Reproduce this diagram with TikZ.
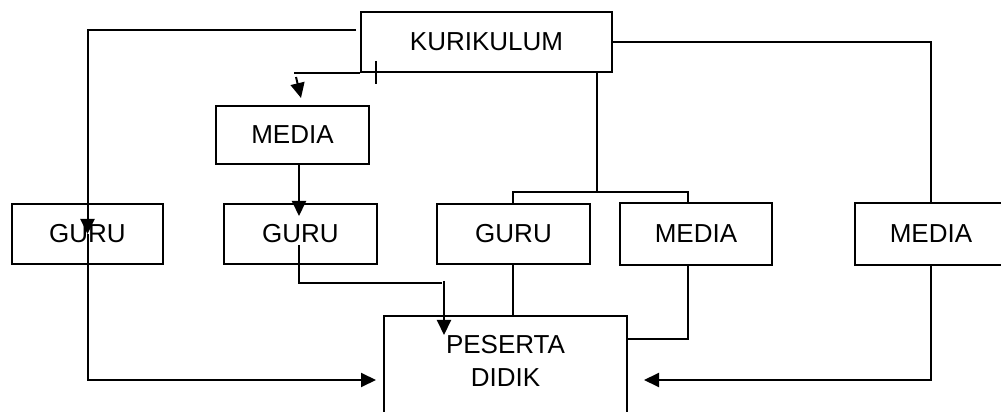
\documentclass[tikz,border=0pt]{standalone}
\usepackage{fontspec}
\setmainfont{Liberation Sans}
\usetikzlibrary{arrows.meta}

\begin{document}
\begin{tikzpicture}
  [x=1pt,y=1pt,line width=2pt,
   box/.style={draw,rectangle,minimum width=153pt,minimum height=60pt,inner sep=0pt,font=\fontsize{26}{33}\selectfont},
   arr/.style={-{Triangle[length=15pt,width=14pt]}}]
  \useasboundingbox (0,0) rectangle (1001,412);
  \clip (0,0) rectangle (1001,412);
  \node[box,minimum width=251pt] (kur) at (486.5,370) {KURIKULUM};
  \node[box,minimum height=58pt] (media1) at (292.5,277) {MEDIA};
  \node[box,minimum width=151pt] (guru1) at (87.5,178) {GURU};
  \node[box] (guru2) at (300.5,178) {GURU};
  \node[box] (guru3) at (513.5,178) {GURU};
  \node[box,minimum width=152pt,minimum height=62pt] (media2) at (696,178) {MEDIA};
  \node[box,minimum width=152pt,minimum height=62pt] (media3) at (931,178) {MEDIA};
  \node[box,minimum width=243pt,minimum height=128pt] (peserta) at (505.5,32) {};
  \node[font=\fontsize{26}{33}\selectfont,align=center,anchor=north,inner sep=0pt] (pesertatxt)
    at ([yshift=-19pt]peserta.north) {PESERTA\\DIDIK};

  % free ends of the connectors
  \coordinate (kl) at ([xshift=-4pt,yshift=12pt]kur.west);
  \coordinate (pl) at ([xshift=-7pt]peserta.west);
  \coordinate (pr) at ([xshift=16pt]peserta.east);
  \coordinate (kbl) at ([xshift=-66pt]kur.south west);
  \coordinate (tick1) at ([xshift=16pt,yshift=12pt]kur.south west);
  \coordinate (tick2) at ([xshift=16pt,yshift=-11pt]kur.south west);
  \coordinate (m1a) at ([xshift=-64pt,yshift=-4pt]kur.south west);
  \coordinate (m1b) at ([xshift=8.5pt,yshift=7pt]media1.north);
  \coordinate (m1s) at ([xshift=6.5pt]media1.south);
  \coordinate (g2n) at ([xshift=-1.5pt,yshift=-13pt]guru2.north);
  \coordinate (g2s) at ([xshift=-1.5pt,yshift=-11pt]guru2.center);
  \coordinate (g2e) at ([xshift=-63.5pt,yshift=32pt]peserta.north);
  \coordinate (pa) at ([xshift=-61.5pt,yshift=34pt]peserta.north);
  \coordinate (pb) at ([xshift=-61.5pt,yshift=-20pt]peserta.north);
  \coordinate (kb) at ([xshift=110.5pt]kur.south);
  \coordinate (g3n) at ([xshift=-0.5pt]guru3.north);
  \coordinate (g3s) at ([xshift=-0.5pt]guru3.south);
  \coordinate (bus) at ([yshift=11pt]g3n);
  \coordinate (m2n) at ([xshift=-8pt]media2.north);
  \coordinate (m2s) at ([xshift=-8pt]media2.south);
  \coordinate (pe) at ([yshift=41pt]peserta.east);

\foreach \from/\to in
{kur.south west/kbl, tick1/tick2, kb/kb |- bus, g3s/g3s |- peserta.north}
    \draw (\from) -- (\to);
\foreach \from/\to in
{m1a/m1b, m1s/g2n, pa/pb}
    \draw[arr] (\from) -- (\to);
  \draw[arr] (kl) -| (guru1.center);
  \draw[arr] (guru1.center) |- (pl);
  \draw (g2s) |- (g2e);
  \draw (g3n) -- (bus) -| (m2n);
  \draw (m2s) |- (pe);
  \draw (kur.east) -| (media3.north);
  \draw[arr] (media3.south) |- (pr);
\end{tikzpicture}
\end{document}
